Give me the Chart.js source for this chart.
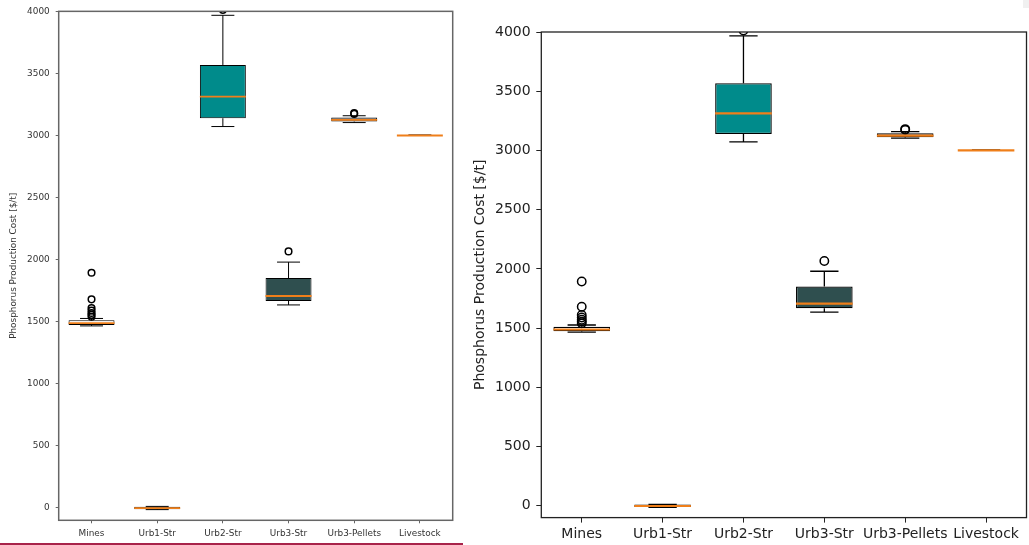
<!DOCTYPE html>
<html>
<head>
<meta charset="utf-8">
<script src="https://cdn.jsdelivr.net/npm/chart.js@4.4.1/dist/chart.umd.min.js"></script>
<style>
  body { margin: 0; background: #fff; width: 1029px; height: 545px; position: relative; overflow: hidden; }
  #leftChart { position: absolute; left: 0; top: 0; }
  #rightChart { position: absolute; left: 470px; top: 0; }
  #redLine { position: absolute; left: 0; top: 543px; width: 463px; height: 2px; background: #a8234a; }
  #corner { position: absolute; left: 1023px; top: 0; width: 6px; height: 8px; background: #f0f0f0; }
</style>
</head>
<body>
<canvas id="leftChart" width="463" height="541"></canvas>
<canvas id="rightChart" width="559" height="545"></canvas>
<div id="redLine"></div>
<div id="corner"></div>
<script>
// box plot statistics
var categories = ['Mines', 'Urb1-Str', 'Urb2-Str', 'Urb3-Str', 'Urb3-Pellets', 'Livestock'];
var whiskerLow = [1466, -14, 3072, 1635, 3104, 3000];
var q1 = [1474, -11, 3139, 1667, 3112, 3000];
var medians = [1488, -2, 3313, 1707, 3125, 3000];
var q3 = [1511, 10, 3568, 1851, 3145, 3000];
var whiskerHigh = [1526, 12, 3968, 1980, 3159, 3004];
var outliers = [
    [1894, 1680, 1610, 1590, 1570, 1555, 1540],
    [],
    [4012],
    [2066],
    [3174, 3180],
    []
];
var boxColors = ['#ffffff', '#696969', '#008b8b', '#2f4f4f', '#696969', '#ffffff'];
var yTicks = [0, 500, 1000, 1500, 2000, 2500, 3000, 3500, 4000];

var boxWidth = 0.7;

var boxPlugin = {
    id: 'boxLines',
    beforeDatasetsDraw(chart, args, opts) {
        var ctx = chart.ctx, x = chart.scales.x, y = chart.scales.y;
        ctx.save();
        ctx.strokeStyle = '#000';
        ctx.lineWidth = opts.lineWidth;
        categories.forEach((c, i) => {
            var cx = x.getPixelForValue(i);
            var capL = x.getPixelForValue(i - boxWidth / 4);
            var capR = x.getPixelForValue(i + boxWidth / 4);
            var lo = y.getPixelForValue(whiskerLow[i]);
            var hi = y.getPixelForValue(whiskerHigh[i]);
            ctx.beginPath();
            ctx.moveTo(cx, lo); ctx.lineTo(cx, y.getPixelForValue(q1[i]));
            ctx.moveTo(cx, y.getPixelForValue(q3[i])); ctx.lineTo(cx, hi);
            ctx.moveTo(capL, lo); ctx.lineTo(capR, lo);
            ctx.moveTo(capL, hi); ctx.lineTo(capR, hi);
            ctx.stroke();
        });
        ctx.restore();
    },
    afterDatasetsDraw(chart, args, opts) {
        var ctx = chart.ctx, x = chart.scales.x, y = chart.scales.y;
        var a = chart.chartArea;
        ctx.save();
        // medians
        ctx.strokeStyle = '#ef7f1a';
        ctx.lineWidth = opts.medianWidth;
        categories.forEach((c, i) => {
            var m = y.getPixelForValue(medians[i]);
            ctx.beginPath();
            ctx.moveTo(x.getPixelForValue(i - boxWidth / 2), m);
            ctx.lineTo(x.getPixelForValue(i + boxWidth / 2), m);
            ctx.stroke();
        });
        // frame (all four spines)
        ctx.strokeStyle = opts.frameColor;
        ctx.lineWidth = opts.frameWidth;
        ctx.strokeRect(a.left, a.top, a.right - a.left, a.bottom - a.top);
        ctx.restore();
    }
};

function makeChart(id, s) {
    var ctx = document.getElementById(id).getContext('2d');
    var points = [];
    outliers.forEach((list, i) => list.forEach(v => points.push({ x: categories[i], y: v })));

    return new Chart(ctx, {
        type: 'bar',
        data: {
            labels: categories,
            datasets: [
                {
                    type: 'line',
                    data: points,
                    showLine: false,
                    pointStyle: 'circle',
                    pointRadius: s.radius,
                    pointBackgroundColor: 'rgba(0,0,0,0)',
                    pointBorderColor: '#000',
                    pointBorderWidth: s.pointBorder,
                    order: 1
                },
                {
                    type: 'bar',
                    data: categories.map((c, i) => [q1[i], q3[i]]),
                    backgroundColor: boxColors,
                    borderColor: '#000',
                    borderWidth: s.lineWidth,
                    borderSkipped: false,
                    barPercentage: boxWidth,
                    categoryPercentage: 1,
                    order: 2
                }
            ]
        },
        options: {
            responsive: false,
            animation: false,
            events: [],
            layout: { padding: s.padding, autoPadding: false },
            plugins: {
                legend: { display: false },
                tooltip: { enabled: false },
                boxLines: {
                    lineWidth: s.lineWidth,
                    medianWidth: s.medianWidth,
                    frameColor: s.frameColor,
                    frameWidth: s.frameWidth
                }
            },
            scales: {
                x: {
                    offset: true,
                    grid: { offset: false, drawOnChartArea: false, drawTicks: true, tickLength: s.tick, tickColor: s.frameColor, tickWidth: 1 },
                    border: { display: false },
                    ticks: {
                        autoSkip: false, maxRotation: 0, minRotation: 0,
                        padding: s.xPad, color: s.textColor,
                        font: { family: 'DejaVu Sans', size: s.font }
                    },
                    afterFit: scale => {
                        scale.height = s.xHeight;
                        scale.paddingLeft = 0;
                        scale.paddingRight = 0;
                    }
                },
                y: {
                    min: -100,
                    max: 4000,
                    afterBuildTicks: scale => { scale.ticks = yTicks.map(v => ({ value: v })); },
                    grid: { drawOnChartArea: false, drawTicks: true, tickLength: s.tick, tickColor: s.frameColor, tickWidth: 1 },
                    border: { display: false },
                    ticks: {
                        padding: s.yPad, color: s.textColor,
                        font: { family: 'DejaVu Sans', size: s.font },
                        callback: v => String(v)
                    },
                    title: {
                        display: true,
                        text: 'Phosphorus Production Cost [$/t]',
                        color: s.textColor,
                        font: { family: 'DejaVu Sans', size: s.font },
                        padding: { top: s.titlePad, bottom: 0 }
                    },
                    afterFit: scale => { scale.width = s.yWidth; }
                }
            }
        },
        plugins: [boxPlugin]
    });
}

document.addEventListener('DOMContentLoaded', function () {
    makeChart('leftChart', {
        font: 8.9, textColor: '#333', lineWidth: 1, medianWidth: 1.8, pointBorder: 1.5, radius: 3.3,
        frameColor: '#666', frameWidth: 1.5, tick: 3, xPad: 5, yPad: 6, titlePad: 8,
        padding: { left: 0, top: 9.4, right: 10.3, bottom: 0 },
        xHeight: 20.7, yWidth: 58.7
    });
    makeChart('rightChart', {
        font: 14, textColor: '#222', lineWidth: 1.3, medianWidth: 2.2, pointBorder: 1.5, radius: 4.2,
        frameColor: '#222', frameWidth: 1.3, tick: 5, xPad: 3, yPad: 5.7, titlePad: 2.3,
        padding: { left: 0, top: 32, right: 2.5, bottom: 0 },
        xHeight: 27.4, yWidth: 71.3
    });
});
</script>
</body>
</html>
